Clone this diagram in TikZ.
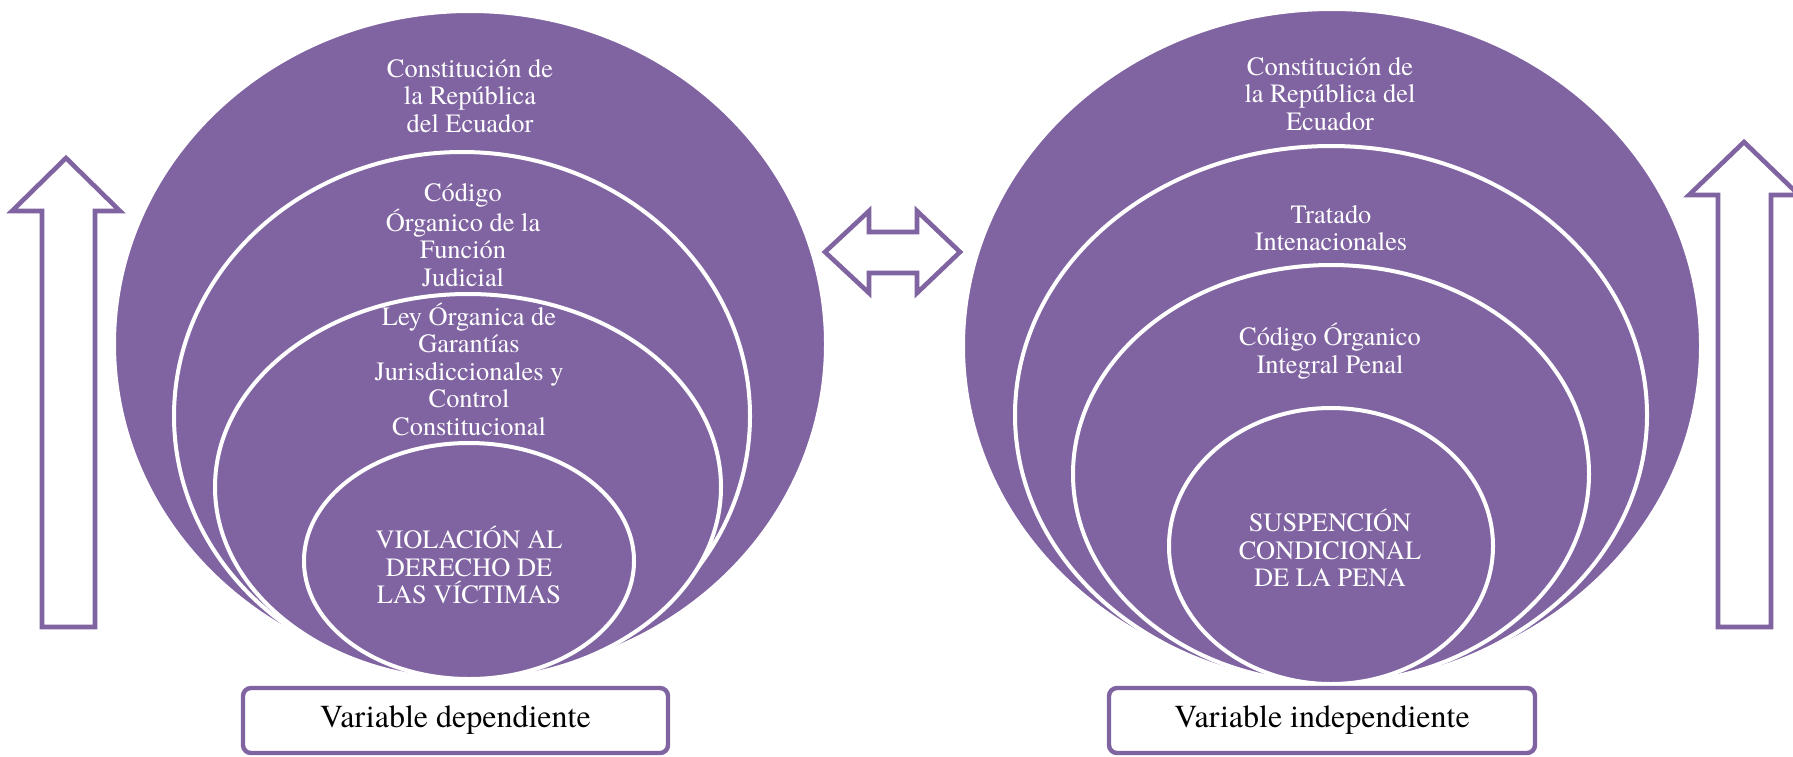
\documentclass[tikz,border=0pt]{standalone}
\usepackage{fontspec}
\setmainfont{TeX Gyre Termes}
\usetikzlibrary{shapes.geometric}
\definecolor{vpurple}{HTML}{8064A2}
\begin{document}
\begin{tikzpicture}[x=0.5pt,y=-0.5pt,
  ring/.style={ellipse, draw=white, fill=vpurple, line width=2pt, inner sep=0pt},
  ringtext/.style={text=white, align=center, font=\fontsize{13.2}{13.75}\selectfont, inner sep=0pt},
  varbox/.style={draw=vpurple, line width=2.2pt, rounded corners=4pt, fill=white, minimum height=32.5pt, font=\fontsize{16}{19}\selectfont, inner sep=0pt},
  outarrow/.style={draw=vpurple, line width=2.3pt, fill=white, line join=miter}]
\useasboundingbox (0,0) rectangle (1793,756);

% left nested ellipses
\node[ring, minimum width=356pt, minimum height=333pt] (LE1) at (470,344) {};
\node[ring, minimum width=288pt, minimum height=264pt] (LE2) at (462,416) {};
\node[ring, minimum width=253pt, minimum height=193pt] (LE3) at (468,487) {};
\node[ring, minimum width=165pt, minimum height=118pt] (LE4) at (469,561) {};

\node[ringtext] (LT1) at (470,96) {Constitución de\\la República\\del Ecuador};
\node[ringtext] (LT2) at (463,235) {Código\\Órganico de la\\Función\\Judicial};
\node[ringtext] (LT3) at (469,369) {Ley Órganica de\\Garantías\\Jurisdiccionales y\\Control\\Constitucional};
\node[ringtext] (LT4) at (469,565) {VIOLACIÓN AL\\DERECHO DE\\LAS VÍCTIMAS};

% right nested ellipses
\node[ring, minimum width=369pt, minimum height=337pt] (RE1) at (1332,346) {};
\node[ring, minimum width=316pt, minimum height=269pt] (RE2) at (1331,415) {};
\node[ring, minimum width=258pt, minimum height=209pt] (RE3) at (1331,474) {};
\node[ring, minimum width=162pt, minimum height=138pt] (RE4) at (1331,546) {};

\node[ringtext] (RT1) at (1330,94) {Constitución de\\la República del\\Ecuador};
\node[ringtext] (RT2) at (1331,228) {Tratado\\Intenacionales};
\node[ringtext] (RT3) at (1330,351) {Código Órganico\\Integral Penal};
\node[ringtext] (RT4) at (1330,548) {SUSPENCIÓN\\CONDICIONAL\\DE LA PENA};

% arrows
\draw[outarrow] (66,158) -- (120,211) -- (95,211) -- (95,627) -- (42,627) -- (42,211) -- (12,211) -- cycle;
\draw[outarrow] (1744,142) -- (1799,195) -- (1771,195) -- (1771,627) -- (1718,627) -- (1718,195) -- (1689,195) -- cycle;
\draw[outarrow] (825,252) -- (869,211) -- (869,232) -- (917,232) -- (917,211) -- (960,252) -- (917,293) -- (917,273) -- (869,273) -- (869,293) -- cycle;

% variable boxes
\node[varbox, minimum width=212.5pt] (VD) at (455.5,720.5) {Variable dependiente};
\node[varbox, minimum width=213pt] (VI) at (1322,720.5) {Variable independiente};
\end{tikzpicture}
\end{document}
